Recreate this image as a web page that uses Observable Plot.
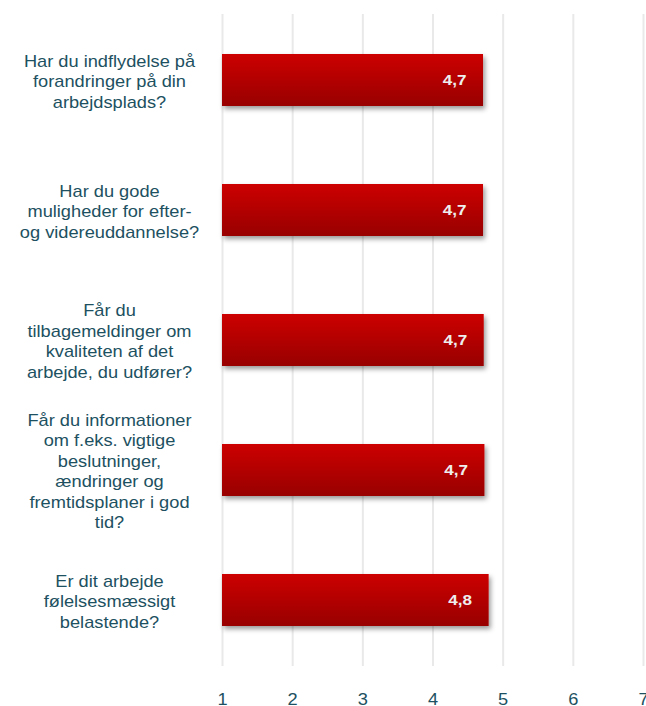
<!DOCTYPE html>
<html>
<head>
<meta charset="utf-8">
<script src="https://cdn.jsdelivr.net/npm/d3@7"></script>
<script src="https://cdn.jsdelivr.net/npm/@observablehq/plot@0.6"></script>
<style>
  html, body { margin: 0; padding: 0; background: #ffffff; }
  #chart svg { display: block; }
</style>
</head>
<body>
<div id="chart"></div>
<script>
const questions = [
  "Har du indflydelse på\nforandringer på din\narbejdsplads?",
  "Har du gode\nmuligheder for efter-\nog videreuddannelse?",
  "Får du\ntilbagemeldinger om\nkvaliteten af det\narbejde, du udfører?",
  "Får du informationer\nom f.eks. vigtige\nbeslutninger,\nændringer og\nfremtidsplaner i god\ntid?",
  "Er dit arbejde\nfølelsesmæssigt\nbelastende?"
];
const values = [4.72, 4.72, 4.73, 4.74, 4.80];
const xTicks = [1, 2, 3, 4, 5, 6, 7];

const data = questions.map((q, i) => ({q, value: values[i]}));
const fmt = v => d3.format(".1f")(v).replace(".", ",");
const textColor = "#1d5161";

const chart = Plot.plot({
  width: 646,
  height: 706,
  marginTop: 14,
  marginBottom: 40,
  marginLeft: 222,
  marginRight: 3,
  style: {fontFamily: "'Liberation Sans', Arial, sans-serif", background: "#ffffff"},
  x: {domain: [1, 7], ticks: xTicks, label: null},
  y: {domain: questions, paddingInner: 0.6, paddingOuter: 0.3, axis: null},
  marks: [
    Plot.ruleX(xTicks, {stroke: "#e9e9e9", strokeWidth: 2}),
    Plot.barX(data, {y: "q", x1: d => 1, x2: "value", fill: "url(#barGrad)"}),
    Plot.text(data, {
      y: "q", x: "value", text: d => fmt(d.value),
      textAnchor: "end", dx: -17, fill: "#eeeeee", fontWeight: "bold", fontSize: 15
    }),
    Plot.text(data, {
      y: "q", text: "q", frameAnchor: "left", dx: -113, textAnchor: "middle",
      lineHeight: 1.28, fontSize: 16, fill: textColor
    }),
    Plot.axisX(xTicks, {tickSize: 0, tickPadding: 27, fontSize: 16, color: textColor, label: null, tickFormat: d => String(d)})
  ]
});

const svg = d3.select(chart);
const defs = svg.insert("defs", ":first-child");
const grad = defs.append("linearGradient").attr("id", "barGrad")
  .attr("x1", 0).attr("y1", 0).attr("x2", 0).attr("y2", 1);
grad.append("stop").attr("offset", "0%").attr("stop-color", "#cd0000");
grad.append("stop").attr("offset", "100%").attr("stop-color", "#980000");
const filt = defs.append("filter").attr("id", "barShadow")
  .attr("x", "-5%").attr("y", "-20%").attr("width", "115%").attr("height", "160%");
filt.append("feDropShadow").attr("dx", 2).attr("dy", 3).attr("stdDeviation", 2.5)
  .attr("flood-color", "#000").attr("flood-opacity", 0.4);
svg.selectAll("rect").filter(function() {
  return this.getAttribute("fill") === "url(#barGrad)" ||
    (this.parentNode && this.parentNode.getAttribute && this.parentNode.getAttribute("fill") === "url(#barGrad)");
}).attr("filter", "url(#barShadow)");

// the reference's lettering is slightly wide: stretch each text horizontally about its anchor
svg.selectAll("text").each(function() {
  const t = this.getAttribute("transform");
  if (t) this.setAttribute("transform", t + " scale(1.14,1)");
});

document.getElementById("chart").appendChild(chart);
</script>
</body>
</html>
